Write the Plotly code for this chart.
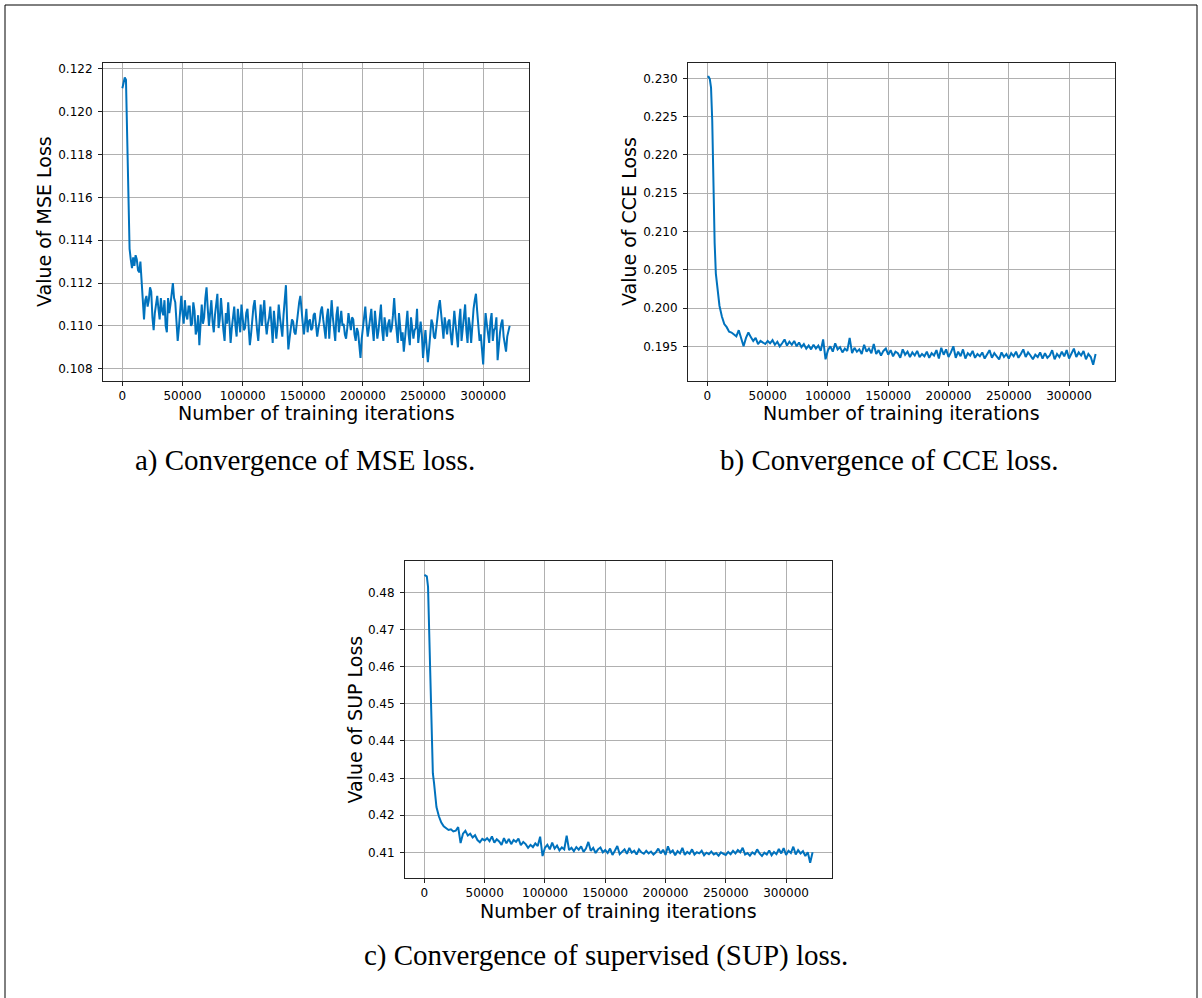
import plotly.graph_objects as go

# ---------------- data ----------------
EARLY_ITERS = [0, 1000, 2000, 3000, 4000, 5000, 6000, 7000, 8000, 9000]
TAIL_START = 10000

MSE_STEP = 1000
MSE_EARLY = [0.1211, 0.1214, 0.1216, 0.1215, 0.1190, 0.1155, 0.1136, 0.1131, 0.1127, 0.1132]
MSE_TAIL = [
    0.1128, 0.1133, 0.1131, 0.1126, 0.1125, 0.1130, 0.1121, 0.1116, 0.1103, 0.1112,
    0.1114, 0.1109, 0.1112, 0.1118, 0.1116, 0.1104, 0.1098, 0.1106, 0.1110, 0.1114,
    0.1108, 0.1103, 0.1113, 0.1107, 0.1105, 0.1112, 0.1100, 0.1097, 0.1113, 0.1106,
    0.1110, 0.1117, 0.1120, 0.1113, 0.1111, 0.1102, 0.1093, 0.1099, 0.1108, 0.1114,
    0.1106, 0.1101, 0.1112, 0.1105, 0.1103, 0.1109, 0.1109, 0.1100, 0.1101, 0.1111,
    0.1107, 0.1096, 0.1098, 0.1105, 0.1091, 0.1099, 0.1110, 0.1101, 0.1104, 0.1113,
    0.1118, 0.1108, 0.1100, 0.1106, 0.1112, 0.1102, 0.1097, 0.1105, 0.1109, 0.1115,
    0.1099, 0.1103, 0.1113, 0.1104, 0.1098, 0.1093, 0.1106, 0.1101, 0.1111, 0.1102,
    0.1092, 0.1099, 0.1104, 0.1109, 0.1100, 0.1095, 0.1108, 0.1103, 0.1097, 0.1110,
    0.1104, 0.1098, 0.1099, 0.1106, 0.1108, 0.1101, 0.1091, 0.1096, 0.1103, 0.1109,
    0.1112, 0.1103, 0.1098, 0.1093, 0.1105, 0.1110, 0.1100, 0.1106, 0.1112, 0.1102,
    0.1096, 0.1101, 0.1104, 0.1109, 0.1098, 0.1092, 0.1107, 0.1102, 0.1094, 0.1100,
    0.1110, 0.1104, 0.1100, 0.1095, 0.1105, 0.1112, 0.1119, 0.1102, 0.1089, 0.1094,
    0.1098, 0.1103, 0.1102, 0.1097, 0.1096, 0.1101, 0.1108, 0.1111, 0.1114, 0.1106,
    0.1101, 0.1096, 0.1104, 0.1108, 0.1097, 0.1102, 0.1103, 0.1098, 0.1099, 0.1105,
    0.1106, 0.1100, 0.1095, 0.1099, 0.1102, 0.1107, 0.1109, 0.1103, 0.1098, 0.1094,
    0.1104, 0.1108, 0.1094, 0.1101, 0.1112, 0.1104, 0.1099, 0.1093, 0.1105, 0.1109,
    0.1097, 0.1102, 0.1107, 0.1100, 0.1101, 0.1096, 0.1094, 0.1099, 0.1106, 0.1102,
    0.1098, 0.1104, 0.1103, 0.1096, 0.1093, 0.1099, 0.1097, 0.1091, 0.1085, 0.1094,
    0.1100, 0.1105, 0.1109, 0.1101, 0.1095, 0.1099, 0.1104, 0.1108, 0.1099, 0.1093,
    0.1107, 0.1101, 0.1094, 0.1098, 0.1106, 0.1110, 0.1098, 0.1093, 0.1104, 0.1100,
    0.1095, 0.1101, 0.1103, 0.1097, 0.1099, 0.1105, 0.1113, 0.1104, 0.1097, 0.1092,
    0.1106, 0.1099, 0.1093, 0.1097, 0.1088, 0.1094, 0.1101, 0.1107, 0.1096, 0.1091,
    0.1104, 0.1100, 0.1094, 0.1098, 0.1099, 0.1108, 0.1092, 0.1097, 0.1102, 0.1096,
    0.1085, 0.1092, 0.1098, 0.1090, 0.1083, 0.1089, 0.1096, 0.1103, 0.1101, 0.1095,
    0.1094, 0.1100, 0.1106, 0.1109, 0.1112, 0.1105, 0.1099, 0.1094, 0.1104, 0.1100,
    0.1096, 0.1102, 0.1103, 0.1096, 0.1091, 0.1099, 0.1107, 0.1101, 0.1095, 0.1090,
    0.1102, 0.1108, 0.1093, 0.1099, 0.1106, 0.1110, 0.1098, 0.1092, 0.1104, 0.1100,
    0.1092, 0.1101, 0.1108, 0.1112, 0.1115, 0.1107, 0.1100, 0.1093, 0.1096, 0.1088,
    0.1082, 0.1095, 0.1106, 0.1101, 0.1097, 0.1092, 0.1102, 0.1106, 0.1093, 0.1098,
    0.1099, 0.1104, 0.1084, 0.1092, 0.1097, 0.1101, 0.1103, 0.1095, 0.1091, 0.1088,
    0.1095, 0.1098, 0.1100,
]

CCE_STEP = 2000
CCE_EARLY = [0.2302, 0.2302, 0.2299, 0.2288, 0.2245, 0.2150, 0.2085, 0.2045, 0.2028, 0.2014]
CCE_TAIL = [
    0.2003, 0.1989, 0.1979, 0.1975, 0.1969, 0.1968, 0.1966, 0.1963, 0.1971, 0.1960,
    0.1950, 0.1961, 0.1968, 0.1962, 0.1957, 0.1961, 0.1953, 0.1957, 0.1955, 0.1953,
    0.1957, 0.1954, 0.1958, 0.1952, 0.1956, 0.1950, 0.1954, 0.1959, 0.1951, 0.1956,
    0.1952, 0.1957, 0.1950, 0.1955, 0.1949, 0.1953, 0.1947, 0.1951, 0.1946, 0.1952,
    0.1947, 0.1951, 0.1944, 0.1959, 0.1933, 0.1945, 0.1950, 0.1943, 0.1954, 0.1946,
    0.1949, 0.1942, 0.1947, 0.1944, 0.1961, 0.1941, 0.1948, 0.1943, 0.1946, 0.1940,
    0.1952, 0.1943, 0.1947, 0.1941, 0.1953, 0.1940, 0.1945, 0.1938, 0.1944, 0.1947,
    0.1939, 0.1945, 0.1937, 0.1943, 0.1941, 0.1935, 0.1946, 0.1939, 0.1943, 0.1936,
    0.1942, 0.1938, 0.1944, 0.1936, 0.1940, 0.1937, 0.1943, 0.1935, 0.1941, 0.1938,
    0.1945, 0.1934, 0.1948, 0.1939, 0.1946, 0.1936, 0.1942, 0.1950, 0.1935, 0.1943,
    0.1937, 0.1946, 0.1934, 0.1941, 0.1938, 0.1944, 0.1935, 0.1940, 0.1937, 0.1942,
    0.1934, 0.1939, 0.1945, 0.1935, 0.1941, 0.1937, 0.1933, 0.1942, 0.1936, 0.1940,
    0.1934, 0.1941, 0.1937, 0.1943, 0.1935, 0.1940, 0.1946, 0.1936, 0.1942, 0.1938,
    0.1933, 0.1939, 0.1936, 0.1942, 0.1934, 0.1941, 0.1935, 0.1938, 0.1945, 0.1933,
    0.1940, 0.1936, 0.1943, 0.1937, 0.1945, 0.1934, 0.1940, 0.1947, 0.1936, 0.1942,
    0.1938, 0.1944, 0.1933, 0.1940, 0.1936, 0.1926, 0.1940,
]

SUP_STEP = 2000
SUP_EARLY = [0.4847, 0.4846, 0.4843, 0.4815, 0.4690, 0.4492, 0.4393, 0.4313, 0.4286, 0.4250]
SUP_TAIL = [
    0.4222, 0.4197, 0.4180, 0.4170, 0.4165, 0.4160, 0.4162, 0.4156, 0.4158, 0.4168,
    0.4125, 0.4150, 0.4158, 0.4145, 0.4150, 0.4140, 0.4146, 0.4133, 0.4127, 0.4136,
    0.4132, 0.4138, 0.4130, 0.4143, 0.4126, 0.4135, 0.4129, 0.4120, 0.4138, 0.4124,
    0.4136, 0.4122, 0.4133, 0.4128, 0.4137, 0.4119, 0.4128, 0.4122, 0.4112, 0.4120,
    0.4114, 0.4124, 0.4117, 0.4142, 0.4090, 0.4112, 0.4120, 0.4108, 0.4126, 0.4110,
    0.4118, 0.4105, 0.4113, 0.4108, 0.4145, 0.4106, 0.4112, 0.4103, 0.4114, 0.4107,
    0.4116, 0.4101, 0.4110, 0.4128, 0.4104, 0.4112, 0.4098, 0.4108, 0.4113, 0.4100,
    0.4106, 0.4098, 0.4110, 0.4093, 0.4104, 0.4117, 0.4095, 0.4102, 0.4108, 0.4096,
    0.4112, 0.4099, 0.4104, 0.4094, 0.4108, 0.4100, 0.4096, 0.4104, 0.4097, 0.4102,
    0.4094, 0.4100, 0.4110, 0.4097, 0.4107, 0.4093, 0.4116, 0.4099, 0.4105, 0.4092,
    0.4103, 0.4097, 0.4112, 0.4093, 0.4101, 0.4096, 0.4108, 0.4094, 0.4100, 0.4097,
    0.4104, 0.4092, 0.4099, 0.4095, 0.4102, 0.4094, 0.4098, 0.4091, 0.4100, 0.4096,
    0.4093, 0.4101, 0.4095, 0.4104, 0.4097, 0.4106, 0.4100, 0.4112, 0.4094, 0.4098,
    0.4091, 0.4100, 0.4095, 0.4108, 0.4097, 0.4090, 0.4099, 0.4094, 0.4105, 0.4092,
    0.4101, 0.4095, 0.4109, 0.4097, 0.4111, 0.4093, 0.4104, 0.4098, 0.4115, 0.4094,
    0.4106, 0.4097, 0.4103, 0.4090, 0.4100, 0.4072, 0.4100,
]

X_TICKS = [0, 50000, 100000, 150000, 200000, 250000, 300000]
MSE_TICKS = [0.108, 0.110, 0.112, 0.114, 0.116, 0.118, 0.120, 0.122]
CCE_TICKS = [0.195, 0.200, 0.205, 0.210, 0.215, 0.220, 0.225, 0.230]
SUP_TICKS = [0.41, 0.42, 0.43, 0.44, 0.45, 0.46, 0.47, 0.48]

Y_TITLES = ["Value of MSE Loss", "Value of CCE Loss", "Value of SUP Loss"]
X_TITLE = "Number of training iterations"
CAPTIONS = ["a) Convergence of MSE loss.", "b) Convergence of CCE loss.",
            "c) Convergence of supervised (SUP) loss."]


def iters_for(tail, step):
    return EARLY_ITERS + [TAIL_START + step * i for i in range(len(tail))]


# ---------------- layout helpers (pixel -> paper) ----------------
W, H = 1202, 998


def px_x(p):
    return p / W


def px_y(p):
    return 1 - p / H


LINE_COLOR = "#0072BD"
SANS = "DejaVu Sans"
SERIF = "Liberation Serif"

# axes boxes in pixels: (left, right, top, bottom)
BOXES = [(103, 529, 63, 381), (688, 1115, 63, 381), (405, 832, 561, 878)]
Y_RANGES = [(0.107425, 0.12228), (0.19047, 0.23200), (0.40308, 0.48843)]
X_RANGE = (-16100, 338100)
Y_TICKS = [MSE_TICKS, CCE_TICKS, SUP_TICKS]
Y_FMT = [".3f", ".3f", ".2f"]
SERIES = [(MSE_EARLY, MSE_TAIL, MSE_STEP), (CCE_EARLY, CCE_TAIL, CCE_STEP),
          (SUP_EARLY, SUP_TAIL, SUP_STEP)]
YTITLE_X = [44, 629, 354]
XTITLE_Y = [413, 413, 911]
CAPTION_POS = [(304.5, 460), (889, 460), (605.5, 955)]

fig = go.Figure()
layout = dict(
    width=W, height=H,
    margin=dict(l=0, r=0, t=0, b=0),
    paper_bgcolor="white", plot_bgcolor="white",
    showlegend=False,
    font=dict(family=SANS, color="black"),
)

annotations = []
for i, ((early, tail, step), box) in enumerate(zip(SERIES, BOXES)):
    n = "" if i == 0 else str(i + 1)
    left, right, top, bottom = box
    fig.add_trace(go.Scatter(
        x=iters_for(tail, step), y=early + tail, mode="lines",
        line=dict(color=LINE_COLOR, width=2),
        xaxis="x" + n, yaxis="y" + n,
    ))
    layout["xaxis" + n] = dict(
        domain=[px_x(left), px_x(right)], anchor="y" + n,
        range=list(X_RANGE), tickvals=X_TICKS, ticktext=[str(v) for v in X_TICKS],
        showgrid=True, gridcolor="#b0b0b0", gridwidth=1,
        showline=True, linecolor="#222222", linewidth=1, mirror=True,
        ticks="outside", ticklen=4, tickcolor="#222222",
        tickfont=dict(family=SANS, size=12, color="black"),
        zeroline=False,
    )
    layout["yaxis" + n] = dict(
        domain=[px_y(bottom), px_y(top)], anchor="x" + n,
        range=list(Y_RANGES[i]), tickvals=Y_TICKS[i],
        tickformat=Y_FMT[i],
        showgrid=True, gridcolor="#b0b0b0", gridwidth=1,
        showline=True, linecolor="#222222", linewidth=1, mirror=True,
        ticks="outside", ticklen=4, tickcolor="#222222",
        tickfont=dict(family=SANS, size=12, color="black"),
        zeroline=False, ticklabelstandoff=3,
    )
    annotations.append(dict(
        text=Y_TITLES[i], xref="paper", yref="paper",
        x=px_x(YTITLE_X[i]), y=px_y((top + bottom) / 2),
        xanchor="center", yanchor="middle", textangle=-90, showarrow=False,
        font=dict(family=SANS, size=19, color="black"),
    ))
    annotations.append(dict(
        text=X_TITLE, xref="paper", yref="paper",
        x=px_x((left + right) / 2), y=px_y(XTITLE_Y[i]),
        xanchor="center", yanchor="middle", showarrow=False,
        font=dict(family=SANS, size=19, color="black"),
    ))
    cx, cy = CAPTION_POS[i]
    annotations.append(dict(
        text=CAPTIONS[i], xref="paper", yref="paper",
        x=px_x(cx), y=px_y(cy), xanchor="center", yanchor="middle",
        showarrow=False, font=dict(family=SERIF, size=29, color="black"),
    ))

layout["annotations"] = annotations
# thin page frame (left, top, right edges)
layout["shapes"] = [
    dict(type="line", xref="paper", yref="paper", x0=px_x(5), x1=px_x(5),
         y0=px_y(5), y1=px_y(1010), line=dict(color="black", width=1)),
    dict(type="line", xref="paper", yref="paper", x0=px_x(5), x1=px_x(1197),
         y0=px_y(5), y1=px_y(5), line=dict(color="black", width=1)),
    dict(type="line", xref="paper", yref="paper", x0=px_x(1197), x1=px_x(1197),
         y0=px_y(5), y1=px_y(1010), line=dict(color="black", width=1)),
]
fig.update_layout(**layout)
fig.write_html(
    "out.html",
    config={"displayModeBar": False},
    post_script="document.body.style.margin='0';document.body.style.overflow='hidden';",
)
